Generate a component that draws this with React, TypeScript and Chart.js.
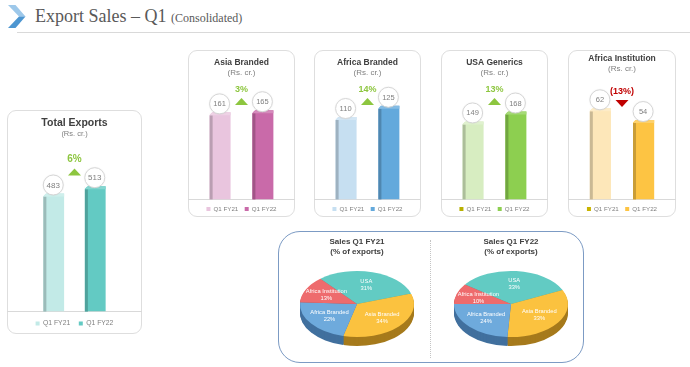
import React, { useEffect, useRef } from "react";
import { Chart, registerables } from "chart.js";

Chart.register(...registerables);
Chart.defaults.font.family = '"Liberation Sans", Arial, sans-serif';

// ---------------- DATA ----------------
const PERIODS = ["Q1 FY21", "Q1 FY22"];
const TOTAL_EXPORTS = [483, 513];
const ASIA_BRANDED = [161, 165];
const AFRICA_BRANDED = [110, 125];
const USA_GENERICS = [149, 168];
const AFRICA_INSTITUTION = [62, 54];
const GROWTH_LABELS = ["6%", "3%", "14%", "13%", "(13%)"];
const PIE_SEGMENTS = ["USA", "Asia Branded", "Africa Branded", "Africa Institution"];
const SHARE_FY21 = [31, 34, 22, 13];
const SHARE_FY22 = [33, 33, 24, 10];

// ---------------- STYLE ----------------
const PIE_COLORS = ["#62cbc3", "#fbc23f", "#6eaadc", "#ee6b6d"];
const PIE_SIDES = ["#3e9a93", "#a67a1c", "#41709e", "#a8484a"];

function shade(hex: string, amt: number) {
  const n = parseInt(hex.slice(1), 16);
  let r = (n >> 16) & 255, g = (n >> 8) & 255, b = n & 255;
  const t = amt < 0 ? 0 : 255;
  const p = Math.abs(amt);
  r = Math.round(r + (t - r) * p);
  g = Math.round(g + (t - g) * p);
  b = Math.round(b + (t - b) * p);
  return `rgb(${r},${g},${b})`;
}

const barDecor = {
  id: "barDecor",
  afterDatasetsDraw(chart: any, _a: any, opts: any) {
    const ctx = chart.ctx;
    const xs: number[] = [];
    chart.data.datasets.forEach((ds: any, i: number) => {
      const meta = chart.getDatasetMeta(i);
      meta.data.forEach((bar: any, j: number) => {
        const x0 = bar.x - bar.width / 2;
        const x1 = bar.x + bar.width / 2;
        const top = bar.y;
        const base = bar.base;
        const d = 3;
        const col = ds.backgroundColor as string;
        ctx.save();
        ctx.fillStyle = shade(col, -0.2);
        ctx.fillRect(x0, top + d, d, base - top - d);
        ctx.beginPath();
        ctx.moveTo(x0, top + d);
        ctx.lineTo(x0 + d, top);
        ctx.lineTo(x1, top);
        ctx.lineTo(x1, top + d);
        ctx.closePath();
        ctx.fillStyle = shade(col, 0.22);
        ctx.fill();
        ctx.beginPath();
        ctx.moveTo(x0 - 0.5, top - 0.5);
        ctx.lineTo(x0 + d, top - 0.5);
        ctx.lineTo(x0 - 0.5, top + d);
        ctx.closePath();
        ctx.fillStyle = "#ffffff";
        ctx.fill();
        // value bubble
        const cy = top - 8.5;
        ctx.beginPath();
        ctx.arc(bar.x - 0.5, cy, 10, 0, Math.PI * 2);
        ctx.fillStyle = "#ffffff";
        ctx.shadowColor = "rgba(0,0,0,0.12)";
        ctx.shadowBlur = 2;
        ctx.fill();
        ctx.shadowBlur = 0;
        ctx.lineWidth = 1;
        ctx.strokeStyle = "#d6d6d6";
        ctx.stroke();
        ctx.fillStyle = "#7f7f7f";
        ctx.font = `${opts.labelSize}px "Liberation Sans", Arial, sans-serif`;
        ctx.textAlign = "center";
        ctx.textBaseline = "middle";
        ctx.fillText(String(ds.data[j]), bar.x - 0.5, cy + 0.5);
        ctx.restore();
        xs.push(bar.x);
      });
    });
    if (xs.length < 2) return;
    const cx = (xs[0] + xs[1]) / 2;
    const color = opts.up ? "#8dc63f" : "#c00000";
    ctx.save();
    ctx.fillStyle = color;
    ctx.font = `bold ${opts.growthSize}px "Liberation Sans", Arial, sans-serif`;
    ctx.textAlign = "center";
    ctx.textBaseline = "middle";
    ctx.fillText(opts.growth, cx, opts.growthY);
    const ty = opts.triY;
    ctx.beginPath();
    if (opts.up) {
      ctx.moveTo(cx - 6.5, ty + 3.5);
      ctx.lineTo(cx + 6.5, ty + 3.5);
      ctx.lineTo(cx, ty - 3.5);
    } else {
      ctx.moveTo(cx - 6.5, ty - 3.5);
      ctx.lineTo(cx + 6.5, ty - 3.5);
      ctx.lineTo(cx, ty + 3.5);
    }
    ctx.closePath();
    ctx.fill();
    ctx.restore();
  },
};

type BarCardProps = {
  title: string;
  values: number[];
  colors: string[];
  legendColors: string[];
  growth: string;
  up: boolean;
  yMax: number;
  left: number;
  top: number;
  width: number;
  height: number;
  canvasHeight: number;
  titleSize: number;
  titlePadTop: number;
  subSize: number;
  subPadBottom: number;
  growthY: number;
  triY: number;
  legendSize: number;
  legendPad: number;
  catPct: number;
  barPct: number;
  labelSize: number;
  growthSize: number;
};

function BarCard(p: BarCardProps) {
  const ref = useRef<HTMLCanvasElement>(null);
  useEffect(() => {
    if (!ref.current) return;
    const chart = new Chart(ref.current, {
      type: "bar",
      data: {
        labels: [""],
        datasets: [
          { label: PERIODS[0], data: [p.values[0]], backgroundColor: p.colors[0] },
          { label: PERIODS[1], data: [p.values[1]], backgroundColor: p.colors[1] },
        ],
      },
      options: {
        responsive: false,
        animation: false,
        layout: { padding: 0 },
        datasets: { bar: { categoryPercentage: p.catPct, barPercentage: p.barPct } },
        plugins: {
          title: {
            display: true,
            text: p.title,
            color: "#404040",
            font: { size: p.titleSize, weight: "bold" },
            padding: { top: p.titlePadTop, bottom: 0 },
          },
          subtitle: {
            display: true,
            text: "(Rs. cr.)",
            color: "#7f7f7f",
            font: { size: p.subSize },
            padding: { top: 0, bottom: p.subPadBottom },
          },
          legend: {
            position: "bottom",
            labels: {
              boxWidth: 4,
              boxHeight: 4,
              padding: p.legendPad,
              color: "#7f7f7f",
              font: { size: p.legendSize },
              generateLabels: (c: any) =>
                c.data.datasets.map((ds: any, i: number) => ({
                  text: ds.label,
                  fillStyle: p.legendColors[i],
                  strokeStyle: p.legendColors[i],
                  lineWidth: 0,
                  hidden: false,
                  datasetIndex: i,
                  fontColor: "#7f7f7f",
                })),
            },
          },
          tooltip: { enabled: false },
          barDecor: {
            growth: p.growth,
            up: p.up,
            growthY: p.growthY,
            triY: p.triY,
            labelSize: p.labelSize,
            growthSize: p.growthSize,
          },
        } as any,
        scales: {
          x: {
            display: true,
            grid: { display: false, drawTicks: false, tickLength: 0 },
            ticks: { display: false, padding: 0 },
            border: { display: true, color: "#d9d9d9", width: 1 },
          },
          y: { display: false, min: 0, max: p.yMax },
        },
      },
      plugins: [barDecor as any],
    });
    return () => chart.destroy();
  }, []);
  return (
    <>
      <div
        style={{
          position: "absolute",
          left: p.left,
          top: p.top,
          width: p.width,
          height: p.height,
          boxSizing: "border-box",
          border: "1px solid #dedede",
          borderRadius: 9,
          background: "#fff",
        }}
      />
      <canvas
        ref={ref}
        width={p.width}
        height={p.canvasHeight}
        style={{ position: "absolute", left: p.left, top: p.top, width: p.width, height: p.canvasHeight }}
      />
    </>
  );
}

const pie3d = {
  id: "pie3d",
  beforeDatasetsDraw(chart: any, _a: any, opts: any) {
    const meta = chart.getDatasetMeta(0);
    const arcs = meta.data;
    if (!arcs.length) return;
    const cx = arcs[0].x;
    const cy = arcs[0].y;
    const K = opts.k;
    const ty = opts.cy;
    const ctx = chart.ctx;
    for (let d = opts.depth; d >= 1; d--) {
      ctx.save();
      ctx.translate(cx, ty + d);
      ctx.scale(1, K);
      arcs.forEach((a: any, i: number) => {
        ctx.beginPath();
        ctx.moveTo(0, 0);
        ctx.arc(0, 0, a.outerRadius, a.startAngle, a.endAngle);
        ctx.closePath();
        ctx.fillStyle = opts.sideColors[i];
        ctx.fill();
      });
      ctx.restore();
    }
    ctx.save();
    ctx.translate(cx, ty);
    ctx.scale(1, K);
    ctx.translate(-cx, -cy);
  },
  afterDatasetsDraw(chart: any, _a: any, opts: any) {
    const ctx = chart.ctx;
    ctx.restore();
    const meta = chart.getDatasetMeta(0);
    const arcs = meta.data;
    if (!arcs.length) return;
    const cx = arcs[0].x;
    const K = opts.k;
    const ty = opts.cy;
    const R = arcs[0].outerRadius;
    ctx.save();
    ctx.beginPath();
    ctx.ellipse(cx, ty, R, R * K, 0, 0, Math.PI * 2);
    ctx.clip();
    ctx.fillStyle = "#ffffff";
    ctx.font = `5.8px "Liberation Sans", Arial, sans-serif`;
    ctx.textAlign = "center";
    ctx.textBaseline = "middle";
    arcs.forEach((a: any, i: number) => {
      const mid = (a.startAngle + a.endAngle) / 2;
      const r = R * 0.6;
      const x = cx + r * Math.cos(mid);
      const y = ty + K * r * Math.sin(mid);
      ctx.fillText(chart.data.labels[i], x, y - 3.5);
      ctx.fillText(chart.data.datasets[0].data[i] + "%", x, y + 3.5);
    });
    ctx.restore();
  },
};

function PieChart(p: { title: string; shares: number[]; left: number; top: number; rotation: number }) {
  const ref = useRef<HTMLCanvasElement>(null);
  useEffect(() => {
    if (!ref.current) return;
    const chart = new Chart(ref.current, {
      type: "pie",
      data: {
        labels: PIE_SEGMENTS,
        datasets: [{ data: p.shares, backgroundColor: PIE_COLORS, borderWidth: 0 }],
      },
      options: {
        responsive: false,
        animation: false,
        rotation: p.rotation,
        radius: 57,
        plugins: {
          legend: { display: false },
          tooltip: { enabled: false },
          title: {
            display: true,
            text: p.title,
            color: "#404040",
            font: { size: 8, weight: "bold" },
            padding: { top: 5, bottom: 0 },
          },
          subtitle: {
            display: true,
            text: "(% of exports)",
            color: "#404040",
            font: { size: 8, weight: "bold" },
            padding: { top: 0, bottom: 0 },
          },
          pie3d: { k: 0.58, cy: 72, depth: 9, sideColors: PIE_SIDES },
        } as any,
      } as any,
      plugins: [pie3d as any],
    });
    return () => chart.destroy();
  }, []);
  return (
    <canvas
      ref={ref}
      width={150}
      height={129}
      style={{ position: "absolute", left: p.left, top: p.top, width: 150, height: 129 }}
    />
  );
}

export default function App() {
  const common = {
    top: 50,
    width: 107,
    height: 167,
    canvasHeight: 172,
    titleSize: 8.5,
    titlePadTop: 7.5,
    subSize: 8,
    subPadBottom: 7.5,
    growthY: 40,
    triY: 51.5,
    legendSize: 6.2,
    legendPad: 6.4,
    catPct: 0.8,
    barPct: 0.49,
    labelSize: 7.5,
    growthSize: 9,
  };
  return (
    <div
      style={{
        position: "absolute",
        left: 0,
        top: 0,
        width: 690,
        height: 367,
        background: "#ffffff",
        overflow: "hidden",
      }}
    >
      <svg width={30} height={32} style={{ position: "absolute", left: 0, top: 0 }}>
        <polygon points="8,5 15.5,5 25.5,16.5 19,16.5" fill="#9dc8ea" />
        <polygon points="19,16.5 25.5,16.5 15.5,28 8,28" fill="#4d96d1" />
      </svg>
      <div
        style={{
          position: "absolute",
          left: 35,
          top: 6,
          whiteSpace: "nowrap",
          fontFamily: '"Liberation Serif", "Times New Roman", serif',
          color: "#595959",
          fontSize: 18,
          lineHeight: "20px",
        }}
      >
        Export Sales – Q1 <span style={{ fontSize: 12 }}>(Consolidated)</span>
      </div>
      <div style={{ position: "absolute", left: 17, top: 32, width: 673, height: 1, background: "#d9d9d9" }} />

      <BarCard
        {...common}
        title="Total Exports"
        values={TOTAL_EXPORTS}
        colors={["#c2eae7", "#63cac3"]}
        legendColors={["#c2eae7", "#63cac3"]}
        growth={GROWTH_LABELS[0]}
        up={true}
        yMax={672}
        left={7}
        top={110}
        width={135}
        height={224}
        canvasHeight={227}
        titleSize={10.5}
        titlePadTop={6.5}
        subSize={7.5}
        subPadBottom={9.2}
        growthY={49}
        triY={62}
        legendSize={6.8}
        legendPad={8.6}
        catPct={0.615}
        barPct={0.5}
        labelSize={8}
        growthSize={10}
      />
      <BarCard
        {...common}
        title="Asia Branded"
        values={ASIA_BRANDED}
        colors={["#e9c5de", "#c96aa9"]}
        legendColors={["#e9c5de", "#c96aa9"]}
        growth={GROWTH_LABELS[1]}
        up={true}
        yMax={212}
        left={188}
      />
      <BarCard
        {...common}
        title="Africa Branded"
        values={AFRICA_BRANDED}
        colors={["#c6dff1", "#63a9dc"]}
        legendColors={["#c6dff1", "#63a9dc"]}
        growth={GROWTH_LABELS[2]}
        up={true}
        yMax={153}
        left={314}
      />
      <BarCard
        {...common}
        title="USA Generics"
        values={USA_GENERICS}
        colors={["#d7edc1", "#8dcf50"]}
        legendColors={["#b8b000", "#8dcf50"]}
        growth={GROWTH_LABELS[3]}
        up={true}
        yMax={219}
        left={441}
      />
      <BarCard
        {...common}
        title="Africa Institution"
        values={AFRICA_INSTITUTION}
        colors={["#fde7b9", "#fdc443"]}
        legendColors={["#c8b400", "#fdc443"]}
        growth={GROWTH_LABELS[4]}
        up={false}
        yMax={80.7}
        left={568}
        width={108}
        titlePadTop={3.5}
        growthY={42}
        triY={53.5}
      />

      <div
        style={{
          position: "absolute",
          left: 278,
          top: 231,
          width: 306,
          height: 132,
          boxSizing: "border-box",
          border: "1px solid #7c9bc4",
          borderRadius: 22,
        }}
      />
      <div
        style={{
          position: "absolute",
          left: 430,
          top: 240,
          width: 0,
          height: 118,
          borderLeft: "1px dotted #c4c4c4",
        }}
      />
      <PieChart title="Sales Q1 FY21" shares={SHARE_FY21} left={282} top={232} rotation={-40} />
      <PieChart title="Sales Q1 FY22" shares={SHARE_FY22} left={436} top={232} rotation={-54} />
    </div>
  );
}
